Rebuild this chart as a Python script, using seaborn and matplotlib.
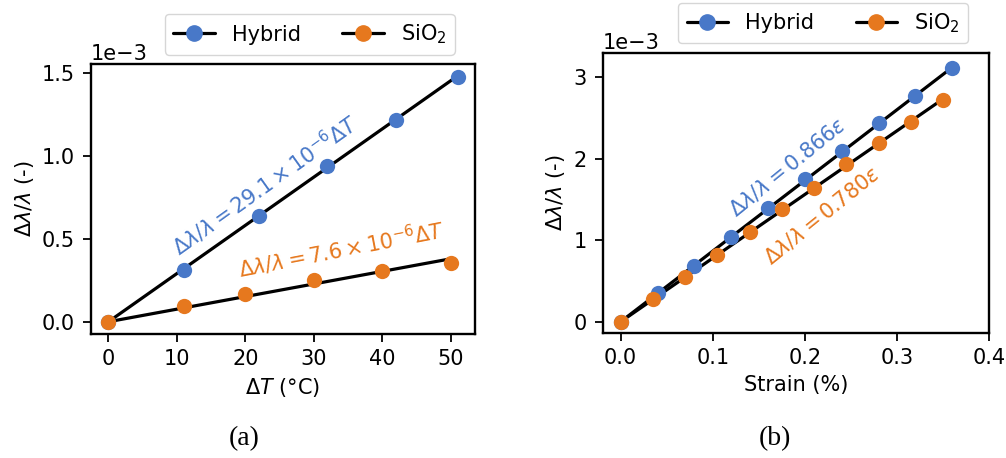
import numpy as np
import matplotlib
matplotlib.use("Agg")
import matplotlib.pyplot as plt
from matplotlib.lines import Line2D
import seaborn as sns
import pandas as pd

sns.set_theme(style="ticks")
FS = 15
plt.rcParams['font.family'] = ['DejaVu Sans']
plt.rcParams['font.size'] = FS
plt.rcParams['axes.labelsize'] = FS
plt.rcParams['xtick.labelsize'] = FS
plt.rcParams['ytick.labelsize'] = FS
plt.rcParams['text.color'] = 'black'
plt.rcParams['axes.labelcolor'] = 'black'
plt.rcParams['xtick.color'] = 'black'
plt.rcParams['ytick.color'] = 'black'

# ---- Data (a): temperature ----
temp_hybrid_x = [0, 11, 22, 32, 42, 51]
temp_hybrid_y = [0.0, 0.311e-3, 0.640e-3, 0.942e-3, 1.219e-3, 1.476e-3]
temp_sio2_x = [0, 11, 20, 30, 40, 50]
temp_sio2_y = [0.0, 0.094e-3, 0.170e-3, 0.249e-3, 0.309e-3, 0.355e-3]
temp_slope_hybrid = 29.1e-6
temp_slope_sio2 = 7.6e-6

# ---- Data (b): strain ----
strain_hybrid_x = [0, 0.04, 0.08, 0.12, 0.16, 0.20, 0.24, 0.28, 0.32, 0.36]
strain_hybrid_y = [0.0, 0.348e-3, 0.686e-3, 1.034e-3, 1.389e-3, 1.745e-3,
                   2.092e-3, 2.439e-3, 2.770e-3, 3.113e-3]
strain_sio2_x = [0, 0.035, 0.07, 0.105, 0.14, 0.175, 0.21, 0.245, 0.28, 0.315, 0.35]
strain_sio2_y = [0.0, 0.274e-3, 0.544e-3, 0.817e-3, 1.103e-3, 1.381e-3,
                 1.635e-3, 1.929e-3, 2.186e-3, 2.447e-3, 2.717e-3]
strain_slope_hybrid = 0.866e-2
strain_slope_sio2 = 0.780e-2

labels = ["Hybrid", r"SiO$_2$"]
BLUE = "#4878c8"
ORANGE = "#e6781e"

fig = plt.figure(figsize=(10.06, 4.58), dpi=100)
axA = fig.add_axes([91/1006, 1-334/458, 384/1006, 270/458])
axB = fig.add_axes([603/1006, 1-333/458, 386/1006, 280/458])

MS = 11
LW = 2.3


def panel(ax, hx, hy, sx, sy, kh, ks):
    hx_arr = np.array(hx); sx_arr = np.array(sx)
    fit_df = pd.DataFrame({"x": np.concatenate([hx_arr, sx_arr]),
                           "y": np.concatenate([kh * hx_arr, ks * sx_arr]),
                           "s": ["h"] * len(hx) + ["s"] * len(sx)})
    sns.lineplot(data=fit_df, x="x", y="y", units="s", estimator=None,
                 color="black", lw=LW, ax=ax, zorder=2, legend=False)
    sns.scatterplot(x=hx, y=hy, color=BLUE, s=MS**2,
                    edgecolor=BLUE, linewidth=0, ax=ax, zorder=3, legend=False)
    sns.scatterplot(x=sx, y=sy, color=ORANGE, s=MS**2,
                    edgecolor=ORANGE, linewidth=0, ax=ax, zorder=3, legend=False)
    handles = [Line2D([], [], color="black", lw=LW, marker="o", ms=MS,
                      mfc=BLUE, mec=BLUE),
               Line2D([], [], color="black", lw=LW, marker="o", ms=MS,
                      mfc=ORANGE, mec=ORANGE)]
    ax.legend(handles, labels, ncol=2, loc="lower center",
              bbox_to_anchor=(0.57, 1.035), frameon=True, fontsize=FS,
              columnspacing=2.0, handlelength=2.0, borderaxespad=0)
    ax.ticklabel_format(axis="y", style="sci", scilimits=(-3, -3))
    ax.yaxis.get_offset_text().set_fontsize(FS)
    for sp in ax.spines.values():
        sp.set_linewidth(1.7)
        sp.set_color("black")
    ax.tick_params(axis="x", width=1.3, length=5.5, pad=5, color="black")
    ax.tick_params(axis="y", width=1.3, length=5.5, pad=6, color="black")


panel(axA, temp_hybrid_x, temp_hybrid_y, temp_sio2_x, temp_sio2_y,
      temp_slope_hybrid, temp_slope_sio2)
axA.set_xlim(-2.55, 53.55)
axA.set_ylim(-0.074e-3, 1.556e-3)
axA.set_xticks([0, 10, 20, 30, 40, 50])
axA.set_yticks([0, 0.5e-3, 1.0e-3, 1.5e-3])
axA.set_xlabel(r"$\Delta T$ (°C)", labelpad=5)
axA.set_ylabel(r"$\Delta\lambda/\lambda$ (-)", labelpad=4)
axA.text(22.9, 0.827e-3, r"$\Delta\lambda/\lambda = 29.1\times10^{-6}\Delta T$",
         color=BLUE, fontsize=FS, rotation=35.5, ha="center", va="center",
         rotation_mode="anchor")
axA.text(34.0, 0.436e-3, r"$\Delta\lambda/\lambda = 7.6\times10^{-6}\Delta T$",
         color=ORANGE, fontsize=FS, rotation=11, ha="center", va="center",
         rotation_mode="anchor")

panel(axB, strain_hybrid_x, strain_hybrid_y, strain_sio2_x, strain_sio2_y,
      strain_slope_hybrid, strain_slope_sio2)
axB.set_xlim(-0.0192, 0.4)
axB.set_ylim(-0.138e-3, 3.294e-3)
axB.set_xticks([0.0, 0.1, 0.2, 0.3, 0.4])
axB.set_yticks([0, 1e-3, 2e-3, 3e-3])
axB.set_xlabel("Strain (%)", labelpad=5)
axB.set_ylabel(r"$\Delta\lambda/\lambda$ (-)", labelpad=5)
axB.text(0.1806, 1.896e-3, r"$\Delta\lambda/\lambda = 0.866\varepsilon$",
         color=BLUE, fontsize=FS, rotation=39, ha="center", va="center",
         rotation_mode="anchor")
axB.text(0.2186, 1.308e-3, r"$\Delta\lambda/\lambda = 0.780\varepsilon$",
         color=ORANGE, fontsize=FS, rotation=39, ha="center", va="center",
         rotation_mode="anchor")

fig.text(244/1006, 1-439/458, "(a)", fontsize=20, family="Liberation Serif",
         ha="center", va="center")
fig.text(775/1006, 1-439/458, "(b)", fontsize=20, family="Liberation Serif",
         ha="center", va="center")

fig.savefig("out.png", dpi=100)
